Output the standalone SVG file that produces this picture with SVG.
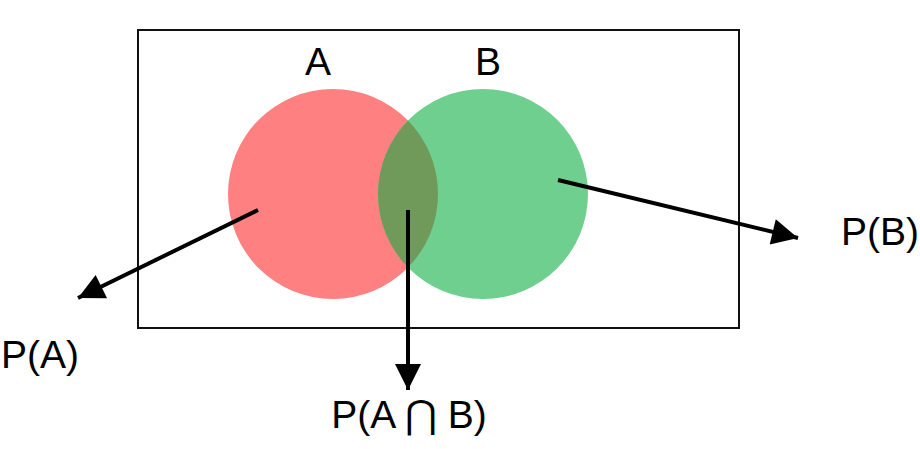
<svg xmlns="http://www.w3.org/2000/svg" width="920" height="449" viewBox="0 0 920 449">
<style>
text{font-family:"Liberation Sans",Arial,sans-serif;font-size:39px;fill:#000}
.c{stroke:#000;stroke-width:4;fill:none}
</style>
<defs>
<marker id="ah" viewBox="0 0 10 10" refX="10" refY="5" markerWidth="7" markerHeight="6.5" markerUnits="strokeWidth" orient="auto"><path d="M0,0 L10,5 L0,10 z" fill="#000"/></marker>
<clipPath id="gclip"><circle cx="483" cy="194" r="105"/></clipPath>
</defs>
<rect x="138" y="30" width="601" height="298" fill="none" stroke="#111" stroke-width="2"/>
<g id="setA"><circle cx="333" cy="194" r="105" fill="#ff8080"/><text x="318" y="75" text-anchor="middle">A</text></g>
<g id="setB"><circle cx="483" cy="194" r="105" fill="#6fcf8e"/><text x="488" y="75" text-anchor="middle">B</text></g>
<g id="intersection"><circle cx="333" cy="194" r="105" fill="#709a5a" clip-path="url(#gclip)"/></g>
<g id="connectors">
<line class="c" x1="258" y1="210" x2="78" y2="298" marker-end="url(#ah)"/>
<line class="c" x1="558" y1="180" x2="798" y2="238" marker-end="url(#ah)"/>
<line class="c" x1="408" y1="210" x2="408" y2="390" marker-end="url(#ah)"/>
</g>
<g id="PA"><text x="1" y="368">P(A)</text></g>
<g id="PB"><text x="841" y="245">P(B)</text></g>
<g id="PAB"><text x="409" y="428" text-anchor="middle">P(A ⋂ B)</text></g>
</svg>
